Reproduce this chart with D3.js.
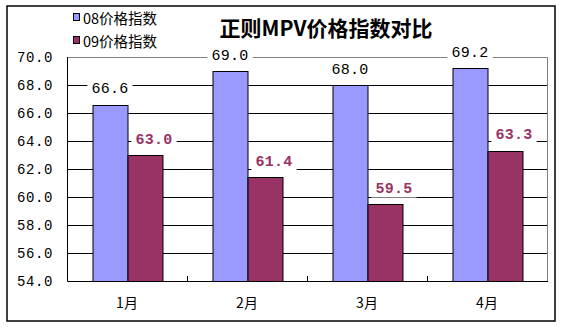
<!DOCTYPE html>
<html><head><meta charset="utf-8">
<script src="https://cdn.jsdelivr.net/npm/d3@7"></script>
<style>
html,body{margin:0;padding:0;background:#fff;}
svg{display:block;}
</style></head>
<body>
<svg id="chart" width="564" height="327"></svg>
<script>
const categories = ["1月", "2月", "3月", "4月"];
const seriesNames = ["08价格指数", "09价格指数"];
const values08 = [66.6, 69.0, 68.0, 69.2];
const values09 = [63.0, 61.4, 59.5, 63.3];
const yTicks = [54, 56, 58, 60, 62, 64, 66, 68, 70];
const title = "正则MPV价格指数对比";

const colors = ["#9999FF", "#993366"];
const labelColors = ["#000000", "#993366"];
const seriesValues = [values08, values09];

const svg = d3.select("#chart");
const plot = {left: 67, right: 547, top: 57, bottom: 281};

// outer border
svg.append("rect").attr("x", 7).attr("y", 6).attr("width", 548).attr("height", 315)
  .attr("fill", "#fff").attr("stroke", "#000").attr("stroke-width", 1.5);

const x = d3.scaleBand().domain(categories).range([plot.left, plot.right]).padding(0);
const xs = d3.scaleBand().domain(seriesNames).range([25.5, 95.5]).padding(0);
const y = d3.scaleLinear().domain([54, 70]).range([plot.bottom, plot.top]);

// gridlines
svg.append("g").selectAll("line").data(yTicks.filter(t => t > 54 && t < 70)).join("line")
  .attr("x1", plot.left).attr("x2", plot.right)
  .attr("y1", d => Math.round(y(d)) + 0.5).attr("y2", d => Math.round(y(d)) + 0.5)
  .attr("stroke", "#000").attr("stroke-width", 1);

// top & right gray border
svg.append("path")
  .attr("d", `M${plot.left},${plot.top + 0.5}H${plot.right + 0.5}V${plot.bottom}`)
  .attr("fill", "none").attr("stroke", "#808080").attr("stroke-width", 1);

// y axis labels
const yAxis = d3.axisLeft(y).tickValues(yTicks).tickFormat(d3.format(".1f")).tickSize(0).tickPadding(14);
const yg = svg.append("g").attr("transform", `translate(${plot.left},0)`).call(yAxis);
yg.select(".domain").remove();
yg.selectAll("text").attr("font-family", "'Liberation Mono', monospace").attr("font-size", 14)
  .attr("letter-spacing", 0.6).attr("fill", "#000");

// bars
const groups = svg.append("g").selectAll("g").data(categories).join("g")
  .attr("transform", d => `translate(${x(d)},0)`);
seriesNames.forEach((s, si) => {
  groups.append("rect")
    .attr("x", xs(s) + 0.5)
    .attr("y", (d, i) => Math.round(y(seriesValues[si][i])) + 0.5)
    .attr("width", xs.bandwidth())
    .attr("height", (d, i) => plot.bottom - Math.round(y(seriesValues[si][i])))
    .attr("fill", colors[si]).attr("stroke", "#000").attr("stroke-width", 1);
});

// axis lines (left & bottom)
svg.append("path")
  .attr("d", `M${plot.left + 0.5},${plot.top}V${plot.bottom + 0.5}H${plot.right + 1}`)
  .attr("fill", "none").attr("stroke", "#000").attr("stroke-width", 1);

// x ticks (inside, at category boundaries)
const boundaries = categories.slice(1).map(c => x(c));
svg.append("g").selectAll("line").data(boundaries).join("line")
  .attr("x1", d => Math.round(d) + 0.5).attr("x2", d => Math.round(d) + 0.5)
  .attr("y1", plot.bottom).attr("y2", plot.bottom - 5)
  .attr("stroke", "#000");

// x labels
const xg = svg.append("g").attr("transform", `translate(0,${plot.bottom})`)
  .call(d3.axisBottom(x).tickSize(0).tickPadding(17));
xg.select(".domain").remove();
xg.selectAll("text").attr("font-family", "'Noto Sans CJK SC', sans-serif").attr("font-size", 14).attr("fill", "#000");

// value labels with white background
const labelLayer = svg.append("g");
seriesNames.forEach((s, si) => {
  categories.forEach((c, i) => {
    const v = seriesValues[si][i];
    const cx = x(c) + xs(s) + xs.bandwidth() / 2 + (si === 1 ? 9 : 0);
    const cy = y(v) - 15;
    const g = labelLayer.append("g");
    const bg = g.append("rect").attr("fill", "#fff");
    const t = g.append("text").attr("x", cx).attr("y", cy)
      .attr("text-anchor", "middle").attr("dominant-baseline", "central")
      .attr("font-family", "'Liberation Mono', monospace").attr("font-size", 15)
      .attr("letter-spacing", 0.3)
      .attr("font-weight", si === 1 ? "bold" : "normal")
      .attr("fill", labelColors[si]).text(d3.format(".1f")(v));
    const b = t.node().getBBox();
    bg.attr("x", b.x - 4).attr("y", b.y).attr("width", b.width + 8).attr("height", b.height);
  });
});

// legend
const legend = svg.append("g");
seriesNames.forEach((s, si) => {
  const ly = 17 + si * 23;
  legend.append("rect").attr("x", 73.5).attr("y", ly - 3.5).attr("width", 6).attr("height", 7)
    .attr("fill", colors[si]).attr("stroke", "#000").attr("stroke-width", 1);
  legend.append("text").attr("x", 83).attr("y", ly).attr("dominant-baseline", "central")
    .attr("font-family", "'Noto Sans CJK SC', sans-serif").attr("font-size", 14.5)
    .attr("fill", "#000").text(s);
});

// title
svg.append("text").attr("x", 326).attr("y", 27).attr("text-anchor", "middle")
  .attr("dominant-baseline", "central")
  .attr("font-family", "'Noto Sans CJK SC', sans-serif").attr("font-size", 21).attr("font-weight", "bold")
  .attr("fill", "#000").text(title);
</script>
</body></html>
